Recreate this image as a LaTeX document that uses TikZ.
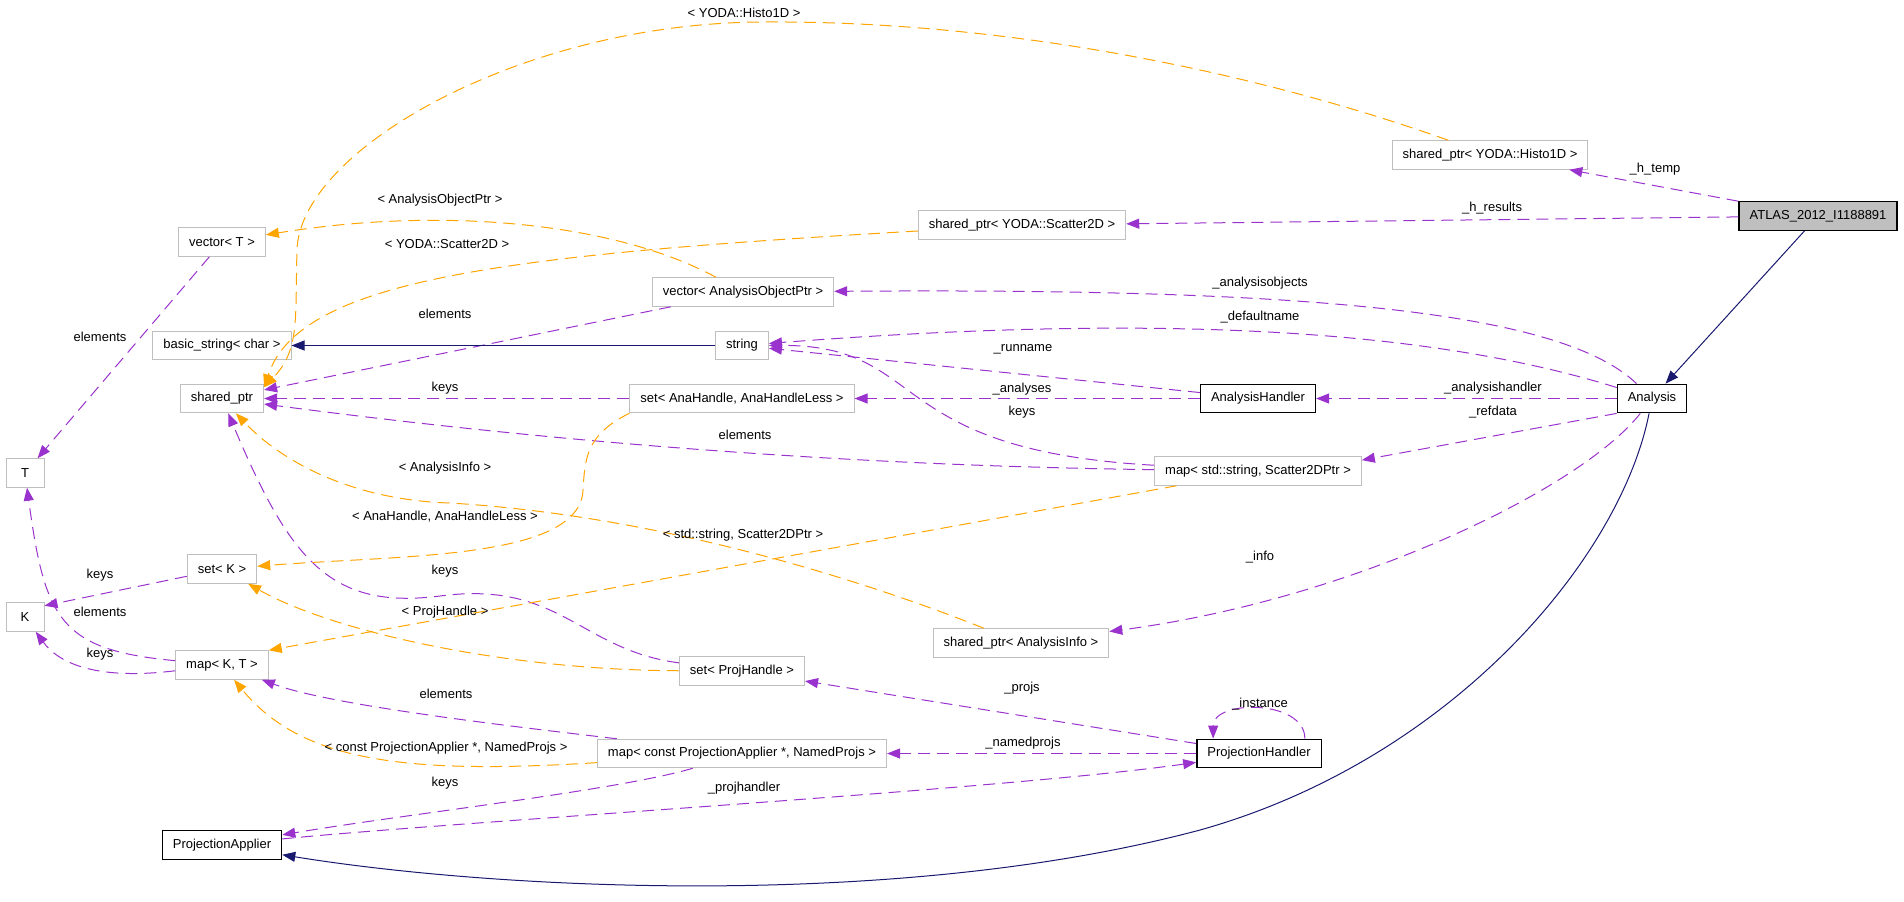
\documentclass[tikz,border=0pt]{standalone}
\usepackage{fontspec}
\setmainfont{Liberation Sans}
\usepackage{tikz}
\usetikzlibrary{arrows.meta}
\definecolor{usecol}{HTML}{9A32CD}
\definecolor{tmplcol}{HTML}{FFA500}
\definecolor{inhcol}{HTML}{191970}
\definecolor{boxgray}{HTML}{BFBFBF}

\begin{document}
\begin{tikzpicture}[x=0.5pt, y=0.5pt,
        every node/.style={font=\fontsize{6.5}{8}\selectfont, inner sep=0pt},
        cls/.style={rectangle, draw=boxgray, line width=0.5pt, minimum height=14.25pt, minimum width=19pt, inner xsep=5.25pt},
        docbox/.style={cls, draw=black, line width=0.65pt},
        mainbox/.style={docbox, fill=boxgray},
        member/.style={usecol, line width=0.5pt, dash pattern=on 6pt off 3.5pt, -{Triangle[length=6.5pt, width=5pt]}},
        tmpl/.style={member, tmplcol},
        inherit/.style={inhcol, line width=0.5pt, -{Triangle[length=6.5pt, width=5pt]}}]
            \useasboundingbox (0,0) rectangle (1904,-901);

            % classes
            \node[mainbox] (atlas) at (1818,-216) {ATLAS\_2012\_I1188891};
            \node[cls] (histo) at (1490,-155) {shared\_ptr< YODA::Histo1D >};
            \node[cls] (scatter) at (1022,-225) {shared\_ptr< YODA::Scatter2D >};
            \node[cls] (vect) at (222,-242) {vector< T >};
            \node[cls] (vao) at (743,-292) {vector< AnalysisObjectPtr >};
            \node[cls] (bstr) at (222,-345.5) {basic\_string< char >};
            \node[cls] (str) at (742,-345.5) {string};
            \node[cls] (sp) at (222,-398.5) {shared\_ptr};
            \node[cls] (sah) at (742,-398.5) {set< AnaHandle, AnaHandleLess >};
            \node[docbox] (ah) at (1258,-398.5) {AnalysisHandler};
            \node[docbox] (ana) at (1652,-398.5) {Analysis};
            \node[cls] (tt) at (25,-473) {T};
            \node[cls] (mss) at (1258,-471) {map< std::string, Scatter2DPtr >};
            \node[cls] (setk) at (222,-569) {set< K >};
            \node[cls] (kk) at (25,-617) {K};
            \node[cls] (ainfo) at (1021,-643) {shared\_ptr< AnalysisInfo >};
            \node[cls] (mkt) at (222,-665) {map< K, T >};
            \node[cls] (sph) at (742,-671) {set< ProjHandle >};
            \node[cls] (mcp) at (742,-753.5) {map< const ProjectionApplier *, NamedProjs >};
            \node[docbox] (ph) at (1259,-753.5) {ProjectionHandler};
            \node[docbox] (pa) at (222,-845) {ProjectionApplier};

            % members
            \draw[member] (atlas) -- (histo);
            \draw[member] (atlas) -- (scatter);
            \draw[member] (ana) .. controls (1560,-310) and (1300,-288) .. (vao);
            \draw[member] (ana) .. controls (1400,-320) and (1100,-318) .. (str);
            \draw[member] (ah) -- (str);
            \draw[member] (ah) -- (sah);
            \draw[member] (mss) .. controls (880,-450) and (930,-345) .. (str);
            \draw[member] (mss) .. controls (800,-465) and (500,-435) .. (sp);
            \draw[member] (sah) -- (sp);
            \draw[member] (vao) -- (sp);
            \draw[member] (ana) -- (ah);
            \draw[member] (ana.south west) -- (mss.6);
            \draw[member] (ana) .. controls (1580,-490) and (1350,-600) .. (ainfo);
            \draw[member] (ph) -- (sph);
            \draw[member] (ph) -- (mcp);
            \draw[member] (ph.18) to[out=90, in=90, looseness=1.1] (ph.162);
            \draw[member] (pa) .. controls (450,-822) and (1000,-790) .. (ph.188);
            \draw[member] (mcp) .. controls (620,-790) and (400,-815) .. (pa);
            \draw[member] (mcp) .. controls (500,-725) and (330,-705) .. (mkt);
            \draw[member] (sph) .. controls (580,-650) and (560,-580) .. (440,-596) .. controls (330,-610) and (290,-560) .. (sp);
            \draw[member] (mkt) .. controls (60,-650) and (45,-620) .. (tt);
            \draw[member] (mkt) .. controls (100,-680) and (60,-665) .. (kk);
            \draw[member] (setk) -- (kk.30);
            \draw[member] (vect) -- (tt);

            % template instances
            \draw[tmpl] (histo) .. controls (1250,-70) and (1000,-20) .. (760,-22) .. controls (520,-24) and (300,-150) .. (297,-250) .. controls (295,-320) and (300,-350) .. (sp.15);
            \draw[tmpl] (scatter) .. controls (500,-255) and (300,-280) .. (sp.15);
            \draw[tmpl] (vao) .. controls (620,-225) and (450,-205) .. (vect);
            \draw[tmpl] (sah.south west) .. controls (585,-435) and (585,-460) .. (583,-490) .. controls (580,-560) and (400,-555) .. (setk);
            \draw[tmpl] (mss) -- (mkt.north east);
            \draw[tmpl] (ainfo) .. controls (850,-575) and (650,-515) .. (450,-503) .. controls (350,-500) and (280,-460) .. (sp);
            \draw[tmpl] (sph) .. controls (500,-670) and (330,-630) .. (setk);
            \draw[tmpl] (mcp) .. controls (400,-775) and (300,-760) .. (mkt);

            % inheritance
            \draw[inherit] (atlas) -- (ana);
            \draw[inherit] (str) -- (bstr);
            \draw[inherit] (ana) .. controls (1620,-560) and (1450,-760) .. (1200,-830) .. controls (900,-910) and (500,-890) .. (pa);

            % labels
            \node (lhtemp) at (1655,-169) {\_h\_temp};
            \node (lhres) at (1492,-208) {\_h\_results};
            \node (laobj) at (1260,-283) {\_analysisobjects};
            \node (ldef) at (1260,-317) {\_defaultname};
            \node (lrun) at (1023,-349) {\_runname};
            \node (lanas) at (1022,-389) {\_analyses};
            \node (lkstr) at (1022,-412) {keys};
            \node (lahand) at (1493,-388) {\_analysishandler};
            \node (lref) at (1493,-412) {\_refdata};
            \node (lelmss) at (745,-435) {elements};
            \node (lksah) at (445,-388) {keys};
            \node (lelvao) at (445,-314) {elements};
            \node (linfo) at (1260,-557) {\_info};
            \node (lprojs) at (1022,-688) {\_projs};
            \node (lnamed) at (1023,-743) {\_namedprojs};
            \node (linst) at (1260,-704) {\_instance};
            \node (lphand) at (744,-788) {\_projhandler};
            \node (lkmcp) at (445,-783) {keys};
            \node (lelmcp) at (446,-694) {elements};
            \node (lksph) at (445,-571) {keys};
            \node (lelmkt) at (100,-612) {elements};
            \node (lkmkt) at (100,-654) {keys};
            \node (lksetk) at (100,-575) {keys};
            \node (lelvect) at (100,-337) {elements};
            \node (thisto) at (744,-13) {< YODA::Histo1D >};
            \node (tscat) at (447,-244) {< YODA::Scatter2D >};
            \node (taop) at (440,-200) {< AnalysisObjectPtr >};
            \node (tanah) at (445,-517) {< AnaHandle, AnaHandleLess >};
            \node (tstr) at (743,-535) {< std::string, Scatter2DPtr >};
            \node (tinfo) at (445,-468) {< AnalysisInfo >};
            \node (tproj) at (445,-612) {< ProjHandle >};
            \node (tconst) at (446,-748) {< const ProjectionApplier *, NamedProjs >};
        \end{tikzpicture}
\end{document}
